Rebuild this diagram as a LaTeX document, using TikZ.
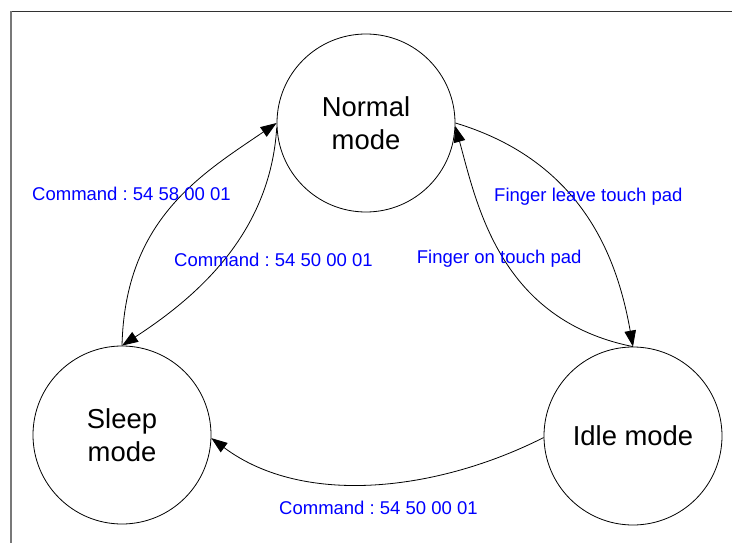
\documentclass[tikz,border=0pt]{standalone}
\usepackage{fontspec}
\setmainfont{Liberation Sans}
\usetikzlibrary{arrows.meta}
\definecolor{lblblue}{RGB}{0,0,255}
\definecolor{framegray}{RGB}{120,120,120}
\definecolor{framedark}{RGB}{50,50,50}
\frenchspacing
\tikzset{
  state/.style={draw=black, line width=0.8pt, circle, minimum size=178pt, inner sep=0pt,
    align=center, font=\fontsize{27.4}{33}\selectfont},
  arr/.style={draw=black, line width=0.8pt, -{Triangle[length=16pt,width=11.5pt]}},
  lbl/.style={text=lblblue, inner sep=0pt, font=\fontsize{18.5}{22}\selectfont}
}
\begin{document}
\begin{tikzpicture}[x=1pt,y=-1pt]
\useasboundingbox (0,0) rectangle (732,543);
\fill[white] (0,0) rectangle (732,543);
% frame
\coordinate (fTL) at (10.5,11.5);
\coordinate (fTR) at (732,11.5);
\coordinate (fBL) at (10.5,543);
\draw[framedark, line width=1pt] (fTL) -- (fTR);
\draw[framegray, line width=2pt] (fTL) -- (fBL);
% states
\node[state] (N) at (366,123) {Normal\\mode};
\node[state] (S) at (122,435) {Sleep\\mode};
\node[state] (I) at (633,436) {Idle mode};
% transitions
\draw[arr] (S.north) .. controls (125,220) and (200,175) .. (N.180);
\draw[arr] (N.183) .. controls (270,235) and (195,298) .. (S.north);
\draw[arr] (N.0) .. controls (585,162) and (618,262) .. (I.north);
\draw[arr] (I.north) .. controls (500,320) and (477,205) .. (N.358);
\draw[arr] (I.181) .. controls (440,490) and (305,508) .. (S.358);
% labels
\node[lbl, anchor=base west] (l1) at (32,200.7) {Command : 54 58 00 01};
\node[lbl, anchor=base west] (l2) at (174,266.7) {Command : 54 50 00 01};
\node[lbl, anchor=base west] (l3) at (494,201) {Finger leave touch pad};
\node[lbl, anchor=base west] (l4) at (416.7,263) {Finger on touch pad};
\node[lbl, anchor=base west] (l5) at (279,514) {Command : 54 50 00 01};
\end{tikzpicture}
\end{document}
